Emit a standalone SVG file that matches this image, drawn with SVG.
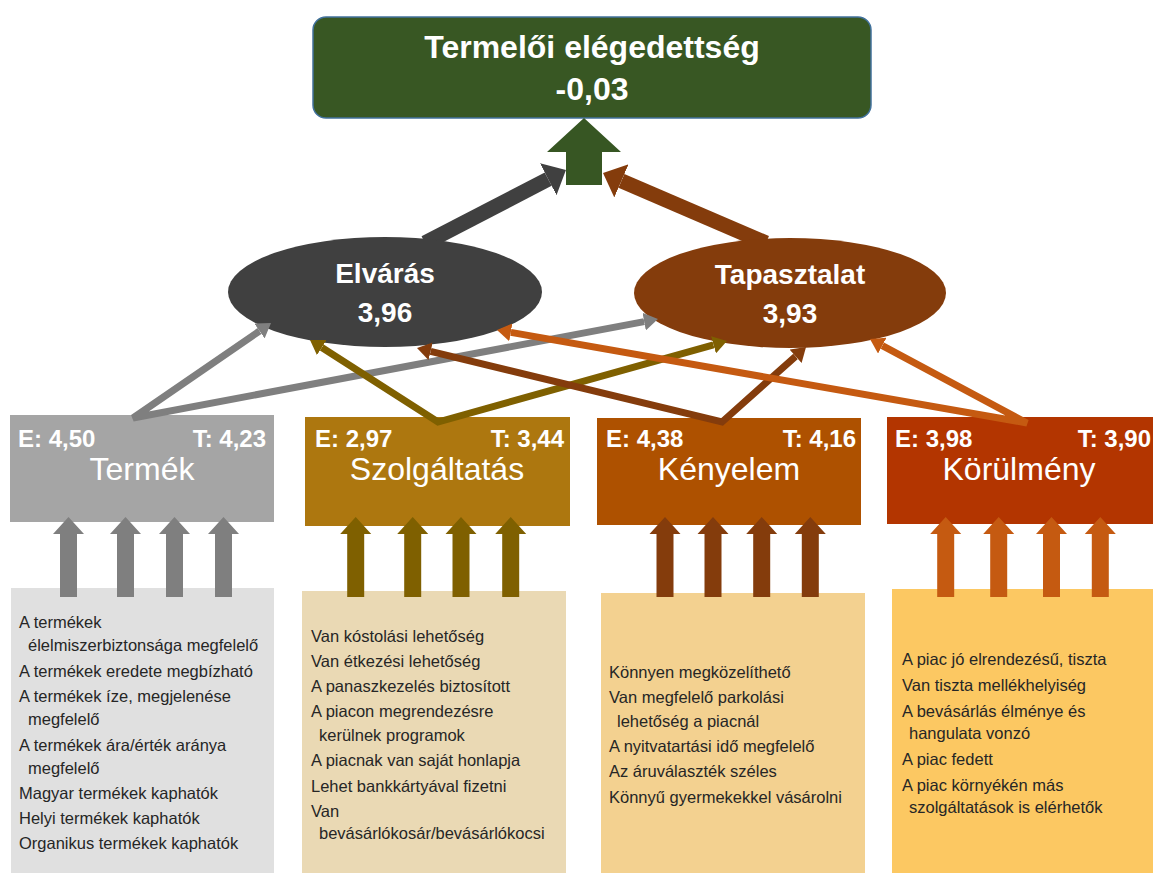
<svg xmlns="http://www.w3.org/2000/svg" xmlns:xlink="http://www.w3.org/1999/xlink" width="1153" height="873" viewBox="0 0 1153 873">
<style>
text{font-family:"Liberation Sans",Arial,sans-serif}
.title{font-size:32px;font-weight:bold;fill:#fff;text-anchor:middle}
.ell{font-size:28px;font-weight:bold;fill:#fff;text-anchor:middle}
.hdr{font-size:24px;font-weight:bold;fill:#fff}
.hdrR{font-size:24px;font-weight:bold;fill:#fff;text-anchor:end}
.cat{font-size:32px;fill:#fff;text-anchor:middle}
.lst{font-size:16.5px;fill:#262626}
.thin{fill:none;stroke-width:7;stroke-linejoin:miter}
</style>
<defs>
<path id="up" d="M0,0 L15.5,17 L8.5,17 L8.5,80 L-8.5,80 L-8.5,17 L-15.5,17 Z"/>
<marker id="mGray" markerUnits="userSpaceOnUse" markerWidth="14" markerHeight="18" viewBox="0 -9 14 18" refX="0" refY="0" orient="auto-start-reverse"><path d="M0,-9 L14,0 L0,9 Z" fill="#7f7f7f"/></marker>
<marker id="mOlive" markerUnits="userSpaceOnUse" markerWidth="14" markerHeight="18" viewBox="0 -9 14 18" refX="0" refY="0" orient="auto-start-reverse"><path d="M0,-9 L14,0 L0,9 Z" fill="#7f6000"/></marker>
<marker id="mBrown" markerUnits="userSpaceOnUse" markerWidth="14" markerHeight="18" viewBox="0 -9 14 18" refX="0" refY="0" orient="auto-start-reverse"><path d="M0,-9 L14,0 L0,9 Z" fill="#843c0c"/></marker>
<marker id="mOrange" markerUnits="userSpaceOnUse" markerWidth="14" markerHeight="18" viewBox="0 -9 14 18" refX="0" refY="0" orient="auto-start-reverse"><path d="M0,-9 L14,0 L0,9 Z" fill="#c55a11"/></marker>
<marker id="mDark" markerUnits="userSpaceOnUse" markerWidth="20" markerHeight="36" viewBox="0 -18 20 36" refX="0" refY="0" orient="auto"><path d="M0,-18 L20,0 L0,18 Z" fill="#404040"/></marker>
<marker id="mBig" markerUnits="userSpaceOnUse" markerWidth="20" markerHeight="36" viewBox="0 -18 20 36" refX="0" refY="0" orient="auto"><path d="M0,-18 L20,0 L0,18 Z" fill="#843c0c"/></marker>
</defs>

<g id="satisfaction">
<rect x="313" y="17" width="558" height="101" rx="13" fill="#385723" stroke="#41719c" stroke-width="1.5"/>
<text class="title" x="592" y="58">Termelői elégedettség</text>
<text class="title" x="592" y="100">-0,03</text>
<polygon points="584,118 621,152 602,152 602,185 566,185 566,152 547,152" fill="#375623"/>
</g>

<g id="thick-connectors">
<line x1="425" y1="243" x2="548.2" y2="179.2" stroke="#404040" stroke-width="15" marker-end="url(#mDark)"/>
<line x1="766" y1="243" x2="621.4" y2="180.9" stroke="#843c0c" stroke-width="15" marker-end="url(#mBig)"/>
</g>

<g id="elvaras">
<ellipse cx="385" cy="292" rx="157" ry="55" fill="#404040"/>
<text class="ell" x="385" y="283">Elvárás</text>
<text class="ell" x="385" y="322">3,96</text>
</g>
<g id="tapasztalat">
<ellipse cx="790" cy="293" rx="156" ry="55" fill="#843c0c"/>
<text class="ell" x="790" y="284">Tapasztalat</text>
<text class="ell" x="790" y="323">3,93</text>
</g>

<g id="termek">
<rect x="10" y="415" width="264" height="107" fill="#a5a5a5"/>
<text class="hdr" x="18" y="447">E: 4,50</text>
<text class="hdrR" x="266" y="447">T: 4,23</text>
<text class="cat" x="142" y="480">Termék</text>
</g>
<g id="szolgaltatas">
<rect x="305" y="417" width="265" height="109" fill="#ad770f"/>
<text class="hdr" x="315" y="447">E: 2,97</text>
<text class="hdrR" x="564" y="447">T: 3,44</text>
<text class="cat" x="437" y="480">Szolgáltatás</text>
</g>
<g id="kenyelem">
<rect x="597" y="418" width="264" height="107" fill="#ae5100"/>
<text class="hdr" x="606" y="447">E: 4,38</text>
<text class="hdrR" x="856" y="447">T: 4,16</text>
<text class="cat" x="729" y="480">Kényelem</text>
</g>
<g id="korulmeny">
<rect x="887" y="417" width="266" height="107" fill="#b33500"/>
<text class="hdr" x="895" y="447">E: 3,98</text>
<text class="hdrR" x="1151" y="447">T: 3,90</text>
<text class="cat" x="1019" y="480">Körülmény</text>
</g>

<g id="termek-items">
<rect x="11" y="588" width="263" height="285" fill="#e0e0e0"/>
<text class="lst" x="19" y="628">A termékek</text>
<text class="lst" x="28" y="651">élelmiszerbiztonsága megfelelő</text>
<text class="lst" x="19" y="677">A termékek eredete megbízható</text>
<text class="lst" x="19" y="702">A termékek íze, megjelenése</text>
<text class="lst" x="28" y="725">megfelelő</text>
<text class="lst" x="19" y="751">A termékek ára/érték aránya</text>
<text class="lst" x="28" y="774">megfelelő</text>
<text class="lst" x="19" y="799">Magyar termékek kaphatók</text>
<text class="lst" x="19" y="824">Helyi termékek kaphatók</text>
<text class="lst" x="19" y="849">Organikus termékek kaphatók</text>
</g>
<g id="szolgaltatas-items">
<rect x="302" y="591" width="264" height="282" fill="#ead9b4"/>
<text class="lst" x="311" y="642">Van kóstolási lehetőség</text>
<text class="lst" x="311" y="667">Van étkezési lehetőség</text>
<text class="lst" x="311" y="692">A panaszkezelés biztosított</text>
<text class="lst" x="311" y="717">A piacon megrendezésre</text>
<text class="lst" x="319" y="741">kerülnek programok</text>
<text class="lst" x="311" y="766">A piacnak van saját honlapja</text>
<text class="lst" x="311" y="792">Lehet bankkártyával fizetni</text>
<text class="lst" x="311" y="817">Van</text>
<text class="lst" x="319" y="839">bevásárlókosár/bevásárlókocsi</text>
</g>
<g id="kenyelem-items">
<rect x="601" y="593" width="264" height="280" fill="#f3d190"/>
<text class="lst" x="609" y="678">Könnyen megközelíthető</text>
<text class="lst" x="609" y="703">Van megfelelő parkolási</text>
<text class="lst" x="617" y="727">lehetőség a piacnál</text>
<text class="lst" x="609" y="752">A nyitvatartási idő megfelelő</text>
<text class="lst" x="609" y="777">Az áruválaszték széles</text>
<text class="lst" x="609" y="803">Könnyű gyermekekkel vásárolni</text>
</g>
<g id="korulmeny-items">
<rect x="892" y="589" width="261" height="284" fill="#fcc862"/>
<text class="lst" x="902" y="665">A piac jó elrendezésű, tiszta</text>
<text class="lst" x="902" y="691">Van tiszta mellékhelyiség</text>
<text class="lst" x="902" y="717">A bevásárlás élménye és</text>
<text class="lst" x="909" y="739">hangulata vonzó</text>
<text class="lst" x="902" y="765">A piac fedett</text>
<text class="lst" x="902" y="791">A piac környékén más</text>
<text class="lst" x="909" y="813">szolgáltatások is elérhetők</text>
</g>

<g id="connectors">
<g fill="#7f7f7f">
<use href="#up" x="68.5" y="517"/><use href="#up" x="125.5" y="517"/><use href="#up" x="174.5" y="517"/><use href="#up" x="223.5" y="517"/>
</g>
<g fill="#7f6000">
<use href="#up" x="355.7" y="517"/><use href="#up" x="412.7" y="517"/><use href="#up" x="461" y="517"/><use href="#up" x="510.7" y="517"/>
</g>
<g fill="#843c0c">
<use href="#up" x="665" y="517"/><use href="#up" x="713" y="517"/><use href="#up" x="761.7" y="517"/><use href="#up" x="810.3" y="517"/>
</g>
<g fill="#c55a11">
<use href="#up" x="945.7" y="517"/><use href="#up" x="998.7" y="517"/><use href="#up" x="1051.5" y="517"/><use href="#up" x="1100.3" y="517"/>
</g>
<path class="thin" stroke="#7f7f7f" d="M259.5,331 L133,418 L644.2,321.6" marker-start="url(#mGray)" marker-end="url(#mGray)"/>
<path class="thin" stroke="#7f6000" d="M321.8,347.5 L438,422 L713.5,344.8" marker-start="url(#mOlive)" marker-end="url(#mOlive)"/>
<path class="thin" stroke="#843c0c" d="M430.6,351.3 L722,422 L795.6,356.3" marker-start="url(#mBrown)" marker-end="url(#mBrown)"/>
<path class="thin" stroke="#c55a11" d="M510.8,332.4 L1027,423 L882.3,345.6" marker-start="url(#mOrange)" marker-end="url(#mOrange)"/>
</g>
</svg>
